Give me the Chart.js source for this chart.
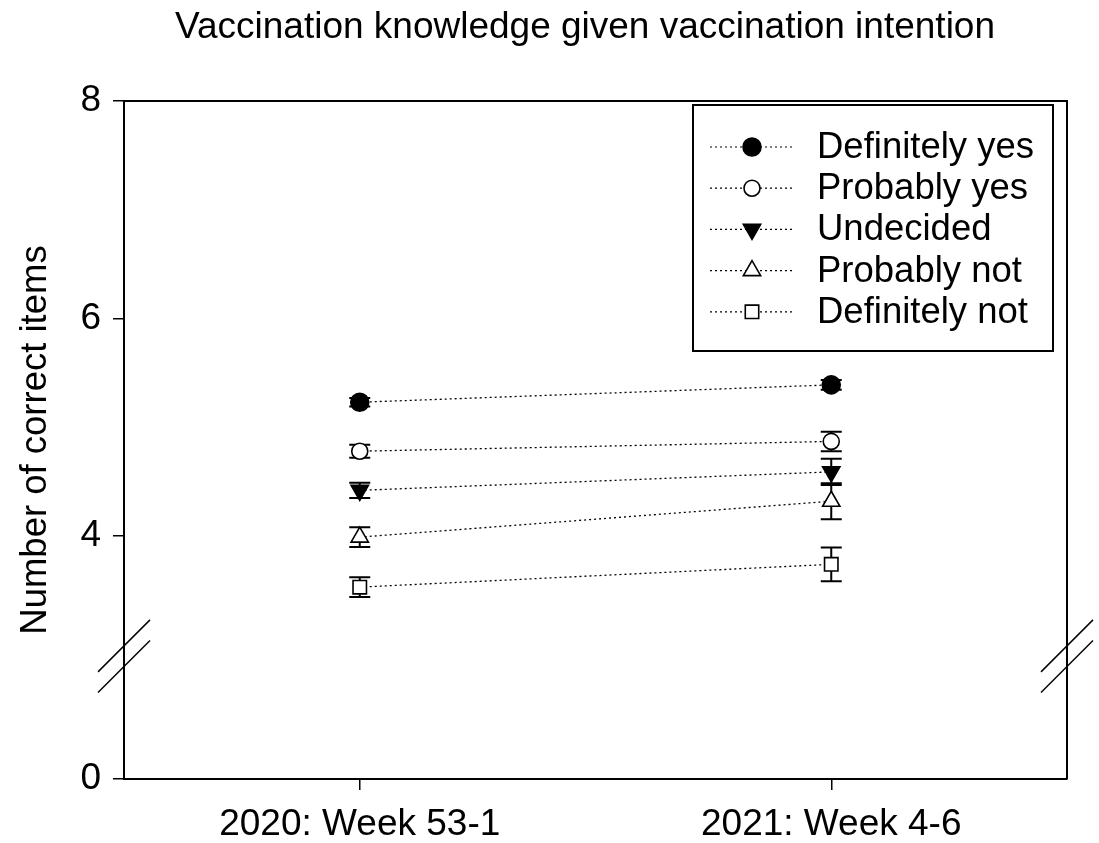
<!DOCTYPE html>
<html>
<head>
<meta charset="utf-8">
<script src="https://cdn.jsdelivr.net/npm/chart.js@4"></script>
<style>
  html, body { margin: 0; padding: 0; background: #fff; }
  #wrap { width: 1099px; height: 843px; }
</style>
</head>
<body>
<div id="wrap"><canvas id="knowledgeChart" width="1099" height="843"></canvas></div>
<script>
const chartTitle = 'Vaccination knowledge given vaccination intention';
const weeks = ['2020: Week 53-1', '2021: Week 4-6'];
const groups = ['Definitely yes', 'Probably yes', 'Undecided', 'Probably not', 'Definitely not'];
const meanWeek53 = [5.23, 4.78, 4.42, 3.99, 3.53];
const meanWeek4 = [5.39, 4.87, 4.59, 4.32, 3.74];
const errWeek53 = [0.04, 0.06, 0.07, 0.09, 0.09];
const errWeek4 = [0.045, 0.09, 0.12, 0.165, 0.155];
const yTickValues = [4, 6, 8];
const yBottomLabel = '0';

// broken axis: the bottom of the axis stands for 0
const Y_BOTTOM = 1.766;
const BREAK_MARKS = [2.99, 2.80];

const pointStyles = ['circle', 'circle', 'triangle', 'triangle', 'rect'];
const fills = ['#000', '#fff', '#000', '#fff', '#fff'];
const rotations = [0, 0, 180, 0, 0];
const radii = [9, 8, 10, 10, 9.5];

const FONT = "'Liberation Sans', Arial, sans-serif";
Chart.defaults.font.family = FONT;
Chart.defaults.color = '#000';

const datasets = groups.map((g, i) => ({
  label: g,
  data: [meanWeek53[i], meanWeek4[i]],
  err: [errWeek53[i], errWeek4[i]],
  borderColor: '#000',
  borderWidth: 1.3,
  borderDash: [2, 3],
  pointStyle: pointStyles[i],
  pointRotation: rotations[i],
  pointRadius: radii[i],
  pointBackgroundColor: fills[i],
  pointBorderColor: '#000',
  pointBorderWidth: 1.6
}));

const decor = {
  id: 'decor',
  beforeDatasetsDraw(chart) {
    const { ctx, scales: { x, y } } = chart;
    ctx.save();
    ctx.strokeStyle = '#000';
    ctx.lineWidth = 2;
    chart.data.datasets.forEach(ds => {
      ds.data.forEach((v, j) => {
        const px = x.getPixelForValue(j);
        const top = y.getPixelForValue(v + ds.err[j]);
        const bot = y.getPixelForValue(v - ds.err[j]);
        ctx.beginPath();
        ctx.moveTo(px, top); ctx.lineTo(px, bot);
        ctx.moveTo(px - 10.5, top); ctx.lineTo(px + 10.5, top);
        ctx.moveTo(px - 10.5, bot); ctx.lineTo(px + 10.5, bot);
        ctx.stroke();
      });
    });
    ctx.restore();
  },
  afterDraw(chart) {
    const { ctx, chartArea: a, scales: { y } } = chart;
    ctx.save();
    ctx.strokeStyle = '#000';

    // top and right frame
    ctx.lineWidth = 2;
    ctx.beginPath();
    ctx.moveTo(a.left, a.top); ctx.lineTo(a.right, a.top); ctx.lineTo(a.right, a.bottom);
    ctx.stroke();

    // axis break slashes
    ctx.lineWidth = 1.5;
    [a.left, a.right].forEach(cx => {
      BREAK_MARKS.forEach(v => {
        const cy = y.getPixelForValue(v);
        ctx.beginPath();
        ctx.moveTo(cx - 26, cy + 26); ctx.lineTo(cx + 26, cy - 26);
        ctx.stroke();
      });
    });

    // title
    ctx.fillStyle = '#000';
    ctx.font = '37px ' + FONT;
    ctx.textAlign = 'center';
    ctx.textBaseline = 'middle';
    ctx.fillText(chartTitle, 585, 28);

    // legend
    const bx = 693, by = 105, bw = 360, bh = 246;
    ctx.fillStyle = '#fff';
    ctx.fillRect(bx, by, bw, bh);
    ctx.lineWidth = 2;
    ctx.strokeRect(bx, by, bw, bh);
    chart.data.datasets.forEach((ds, i) => {
      const ry = 147 + i * 41.2;
      ctx.lineWidth = 1.2;
      ctx.setLineDash([2, 3]);
      ctx.beginPath(); ctx.moveTo(710, ry); ctx.lineTo(792, ry); ctx.stroke();
      ctx.setLineDash([]);
      ctx.fillStyle = ds.pointBackgroundColor;
      ctx.lineWidth = 1.6;
      Chart.helpers.drawPoint(ctx, {
        pointStyle: ds.pointStyle, rotation: ds.pointRotation,
        radius: ds.pointRadius, borderWidth: 1.6
      }, 752, ry);
      ctx.fillStyle = '#000';
      ctx.font = '36.5px ' + FONT;
      ctx.textAlign = 'left';
      ctx.textBaseline = 'middle';
      ctx.fillText(ds.label, 817, ry + 1);
    });
    ctx.restore();
  }
};

new Chart(document.getElementById('knowledgeChart'), {
  type: 'line',
  data: { labels: weeks, datasets: datasets },
  options: {
    responsive: false,
    animation: false,
    layout: { padding: { top: 101, right: 32, left: 0, bottom: 0 } },
    plugins: { legend: { display: false }, title: { display: false }, tooltip: { enabled: false } },
    scales: {
      x: {
        type: 'category',
        offset: true,
        afterFit(s) { s.height = 64; },
        grid: { drawOnChartArea: false, drawTicks: true, tickLength: 11, color: '#000', lineWidth: 1.5 },
        border: { color: '#000', width: 2 },
        ticks: { font: { size: 37 }, padding: 13, maxRotation: 0 }
      },
      y: {
        min: Y_BOTTOM,
        max: 8,
        afterFit(s) { s.width = 124; },
        afterBuildTicks(s) {
          s.ticks = [{ value: Y_BOTTOM }].concat(yTickValues.map(v => ({ value: v })));
        },
        grid: { drawOnChartArea: false, drawTicks: true, tickLength: 11, color: '#000', lineWidth: 1.5 },
        border: { color: '#000', width: 2 },
        ticks: {
          font: { size: 37 },
          padding: 12,
          callback: v => (v === Y_BOTTOM ? yBottomLabel : String(v))
        },
        title: {
          display: true,
          text: 'Number of correct items',
          font: { size: 36.5 },
          padding: { top: 14, bottom: 0 }
        }
      }
    }
  },
  plugins: [decor]
});
</script>
</body>
</html>
